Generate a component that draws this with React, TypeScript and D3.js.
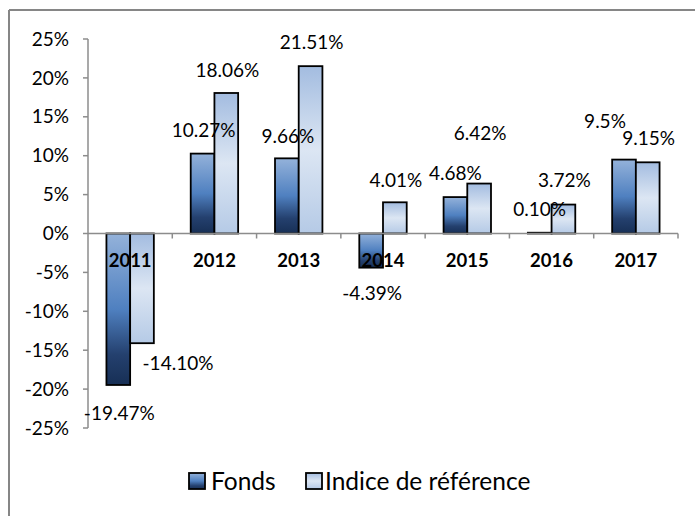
import React from "react";
import * as d3 from "d3";

const years = ["2011", "2012", "2013", "2014", "2015", "2016", "2017"];
const fonds = [-19.47, 10.27, 9.66, -4.39, 4.68, 0.1, 9.5];
const indice = [-14.1, 18.06, 21.51, 4.01, 6.42, 3.72, 9.15];
const fondsLabels = ["-19.47%", "10.27%", "9.66%", "-4.39%", "4.68%", "0.10%", "9.5%"];
const indiceLabels = ["-14.10%", "18.06%", "21.51%", "4.01%", "6.42%", "3.72%", "9.15%"];
const yTicks = [-25, -20, -15, -10, -5, 0, 5, 10, 15, 20, 25];
const seriesNames = ["Fonds", "Indice de référence"];

// label offsets (manually placed labels in the original)
const fondsLabelDx = [1, 1, 1, 1, 0, 0, -19];
const fondsLabelDy = [28, -23, -22, 26, -24, -23, -38];
const indiceLabelDx = [36, 1, 1, 1, 1, 1, 1];
const indiceLabelDy = [20, -23, -24, -22, -50, -24, -24];

const W = 695;
const H = 516;
const font = "Lato, Carlito, Calibri, sans-serif";

export default function App() {
  const x = d3.scaleBand<string>().domain(years).range([88, 678]).paddingInner(0).paddingOuter(0);
  const y = d3.scaleLinear().domain([-25, 25]).range([428, 39]);
  const groupW = x.bandwidth() * 0.5625;
  const barW = groupW / 2;
  const y0 = y(0);

  const bar = (v: number, xs: number, fill: string, key: string) => {
    const top = Math.min(y(v), y0);
    const h = Math.abs(y(v) - y0);
    return (
      <rect key={key} x={xs} y={top} width={barW} height={Math.max(h, 0.5)} fill={fill} stroke="#000" strokeWidth={1.8} />
    );
  };

  return (
    <svg width={W} height={H} style={{ position: "absolute", left: 0, top: 0 }}>
      <defs>
        <linearGradient id="gF" x1="0" y1="0" x2="0" y2="1">
          <stop offset="0" stopColor="#94b2da" />
          <stop offset="0.5" stopColor="#4f80c0" />
          <stop offset="0.8" stopColor="#24406e" />
          <stop offset="1" stopColor="#172f55" />
        </linearGradient>
        <linearGradient id="gI" x1="0" y1="0" x2="0" y2="1">
          <stop offset="0" stopColor="#a3bce0" />
          <stop offset="0.5" stopColor="#dce6f3" />
          <stop offset="1" stopColor="#b5cae6" />
        </linearGradient>
      </defs>
      <rect x={0} y={0} width={W} height={H} fill="#fff" />
      {/* chart area border (top & left) */}
      <line x1={9} y1={10} x2={W} y2={10} stroke="#868686" strokeWidth={2} />
      <line x1={9} y1={10} x2={9} y2={H} stroke="#868686" strokeWidth={2} />

      {/* y axis */}
      <line x1={88} y1={y(25)} x2={88} y2={y(-25)} stroke="#8c8c8c" strokeWidth={1.5} />
      {yTicks.map((t) => (
        <g key={t}>
          <line x1={83} x2={88} y1={y(t)} y2={y(t)} stroke="#8c8c8c" strokeWidth={1.5} />
          <text x={69} y={y(t)} dy="0.35em" textAnchor="end" fontFamily={font} fontSize={19} fill="#000">
            {t}%
          </text>
        </g>
      ))}

      {/* bars */}
      {years.map((yr, i) => {
        const c = (x(yr) as number) + x.bandwidth() / 2;
        return (
          <g key={yr}>
            {bar(fonds[i], c - barW, "url(#gF)", "f" + yr)}
            {bar(indice[i], c, "url(#gI)", "i" + yr)}
          </g>
        );
      })}

      {/* x axis */}
      <line x1={88} x2={678} y1={y0} y2={y0} stroke="#8c8c8c" strokeWidth={1.5} />
      {years.map((yr) => (
        <line key={"t" + yr} x1={(x(yr) as number) + x.bandwidth()} x2={(x(yr) as number) + x.bandwidth()} y1={y0} y2={y0 + 5} stroke="#8c8c8c" strokeWidth={1.5} />
      ))}
      {years.map((yr) => (
        <text key={"l" + yr} x={(x(yr) as number) + x.bandwidth() / 2} y={y0 + 27} dy="0.35em" textAnchor="middle" fontFamily={font} fontWeight="bold" fontSize={18.5} fill="#000">
          {yr}
        </text>
      ))}

      {/* data labels */}
      {years.map((yr, i) => {
        const c = (x(yr) as number) + x.bandwidth() / 2;
        return (
          <g key={"dl" + yr}>
            <text x={c - barW / 2 + fondsLabelDx[i]} y={y(fonds[i]) + fondsLabelDy[i]} dy="0.35em" textAnchor="middle" fontFamily={font} fontSize={19} fill="#000">
              {fondsLabels[i]}
            </text>
            <text x={c + barW / 2 + indiceLabelDx[i]} y={y(indice[i]) + indiceLabelDy[i]} dy="0.35em" textAnchor="middle" fontFamily={font} fontSize={19} fill="#000">
              {indiceLabels[i]}
            </text>
          </g>
        );
      })}

      {/* legend */}
      <rect x={189} y={473} width={16} height={16} fill="url(#gF)" stroke="#000" strokeWidth={1.8} />
      <text x={211} y={481.5} dy="0.35em" fontFamily={font} fontSize={24.5} fill="#000">{seriesNames[0]}</text>
      <rect x={306} y={473} width={16} height={16} fill="url(#gI)" stroke="#000" strokeWidth={1.8} />
      <text x={325} y={481.5} dy="0.35em" fontFamily={font} fontSize={24.5} fill="#000">{seriesNames[1]}</text>
    </svg>
  );
}
